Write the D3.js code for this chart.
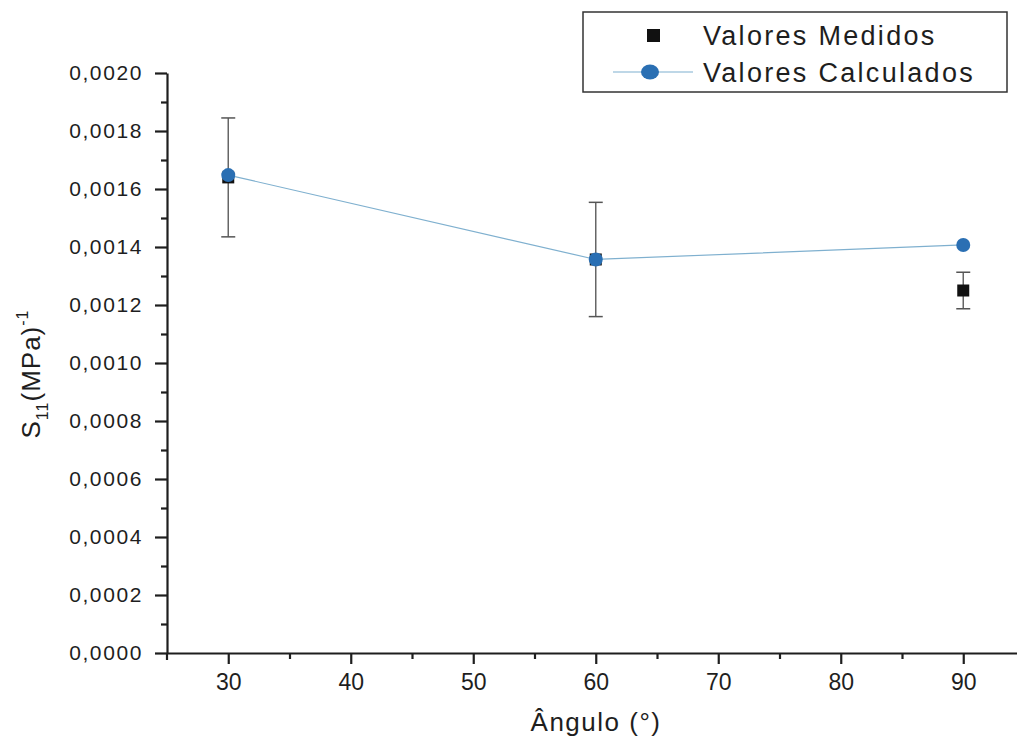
<!DOCTYPE html>
<html>
<head>
<meta charset="utf-8">
<script src="https://cdn.jsdelivr.net/npm/d3@7"></script>
<style>
  html, body { margin: 0; padding: 0; background: #fff; }
  svg { display: block; }
  text { font-family: Arial, "Liberation Sans", sans-serif; fill: #1e1e1e; }
</style>
</head>
<body>
<svg id="chart" width="1017" height="742"></svg>
<script>
// ---- data ----
const angles = [30, 60, 90];
const measured = [0.001640, 0.001357, 0.001250];
const measuredErr = [0.000205, 0.000197, 0.000063];
const calculated = [0.001648, 0.001357, 0.001407];
const yTicks = [0, 0.0002, 0.0004, 0.0006, 0.0008, 0.0010, 0.0012, 0.0014, 0.0016, 0.0018, 0.0020];
const xTicks = [30, 40, 50, 60, 70, 80, 90];
const seriesNames = ["Valores Medidos", "Valores Calculados"];

const svg = d3.select("#chart");
const x = d3.scaleLinear().domain([25, 95]).range([167, 1024.5]);
const y = d3.scaleLinear().domain([0, 0.002]).range([653, 73]);

const fmt = d => d3.format(".4f")(d).replace(".", ",");

// minor ticks
const yMinor = d3.range(1, 20, 2).map(i => i * 0.0001);
const xMinor = [35, 45, 55, 65, 75, 85, 95];

svg.append("g").attr("transform", `translate(${x(25)},0)`)
  .call(d3.axisLeft(y).tickValues(yMinor).tickSize(6).tickFormat(""))
  .call(g => g.select(".domain").remove())
  .selectAll("line").attr("stroke", "#1e1e1e").attr("stroke-width", 2.2);

svg.append("g").attr("transform", `translate(0,${y(0)})`)
  .call(d3.axisBottom(x).tickValues(xMinor).tickSize(6).tickFormat(""))
  .call(g => g.select(".domain").remove())
  .selectAll("line").attr("stroke", "#1e1e1e").attr("stroke-width", 2.2);

// y axis
const gy = svg.append("g").attr("transform", `translate(${x(25)},0)`)
  .call(d3.axisLeft(y).tickValues(yTicks).tickSize(12).tickSizeOuter(0).tickPadding(12).tickFormat(fmt));
gy.select(".domain").attr("stroke", "#1e1e1e").attr("stroke-width", 2.2);
gy.selectAll(".tick line").attr("stroke", "#1e1e1e").attr("stroke-width", 2.2);
gy.selectAll(".tick text").attr("font-size", 21).attr("letter-spacing", 1.6).attr("fill", "#1e1e1e");

// x axis
const gx = svg.append("g").attr("transform", `translate(0,${y(0)})`)
  .call(d3.axisBottom(x).tickValues(xTicks).tickSize(11).tickSizeOuter(0).tickPadding(10).tickFormat(d3.format("d")));
gx.select(".domain").attr("stroke", "#1e1e1e").attr("stroke-width", 2.2);
gx.selectAll(".tick line").attr("stroke", "#1e1e1e").attr("stroke-width", 2.2);
gx.selectAll(".tick text").attr("font-size", 23).attr("fill", "#1e1e1e");

// extend y axis slightly below x axis (corner tick)
svg.append("line").attr("x1", x(25)).attr("x2", x(25)).attr("y1", y(0)).attr("y2", y(0) + 7)
  .attr("stroke", "#1e1e1e").attr("stroke-width", 2.2);

// axis titles
svg.append("text").attr("x", 596).attr("y", 731).attr("text-anchor", "middle")
  .attr("font-size", 26).attr("letter-spacing", 1.5).text("Ângulo (°)");

const yt = svg.append("text").attr("transform", "translate(40,374) rotate(-90)")
  .attr("text-anchor", "middle").attr("font-size", 26).attr("letter-spacing", 1);
yt.append("tspan").text("S");
yt.append("tspan").attr("font-size", 16).attr("dy", 8).text("11");
yt.append("tspan").attr("dy", -8).text("(MPa)");
yt.append("tspan").attr("font-size", 16).attr("dy", -12).text("-1");

// error bars
const eb = svg.append("g");
angles.forEach((a, i) => {
  const cx = x(a), top = y(measured[i] + measuredErr[i]), bot = y(measured[i] - measuredErr[i]);
  eb.append("line").attr("x1", cx).attr("x2", cx).attr("y1", top).attr("y2", bot)
    .attr("stroke", "#666").attr("stroke-width", 1.5);
  [top, bot].forEach(yy => eb.append("line").attr("x1", cx - 7).attr("x2", cx + 7)
    .attr("y1", yy).attr("y2", yy).attr("stroke", "#555").attr("stroke-width", 1.5));
});

// measured squares
svg.append("g").selectAll("rect").data(angles).join("rect")
  .attr("x", (d) => x(d) - 6).attr("y", (d, i) => y(measured[i]) - 6)
  .attr("width", 12).attr("height", 12).attr("fill", "#111");

// calculated line
const line = d3.line().x((d) => x(d)).y((d, i) => y(calculated[i]));
svg.append("path").datum(angles).attr("d", line).attr("fill", "none")
  .attr("stroke", "#7fb0cf").attr("stroke-width", 1.2);

svg.append("g").selectAll("circle").data(angles).join("circle")
  .attr("cx", (d) => x(d)).attr("cy", (d, i) => y(calculated[i])).attr("r", 7)
  .attr("fill", "#2a6fb3");

// legend
const lg = svg.append("g");
lg.append("rect").attr("x", 583).attr("y", 12).attr("width", 424).attr("height", 80)
  .attr("fill", "#fff").attr("stroke", "#333").attr("stroke-width", 1.5);
lg.append("rect").attr("x", 647).attr("y", 29).attr("width", 13).attr("height", 13).attr("fill", "#111");
lg.append("line").attr("x1", 613).attr("x2", 693).attr("y1", 72).attr("y2", 72)
  .attr("stroke", "#7fb0cf").attr("stroke-width", 1.2);
lg.append("ellipse").attr("cx", 650).attr("cy", 72).attr("rx", 9).attr("ry", 7.5).attr("fill", "#2a6fb3");
lg.append("text").attr("x", 703).attr("y", 45).attr("font-size", 27).attr("letter-spacing", 2.3).text(seriesNames[0]);
lg.append("text").attr("x", 703).attr("y", 82).attr("font-size", 27).attr("letter-spacing", 2.3).text(seriesNames[1]);
</script>
</body>
</html>
